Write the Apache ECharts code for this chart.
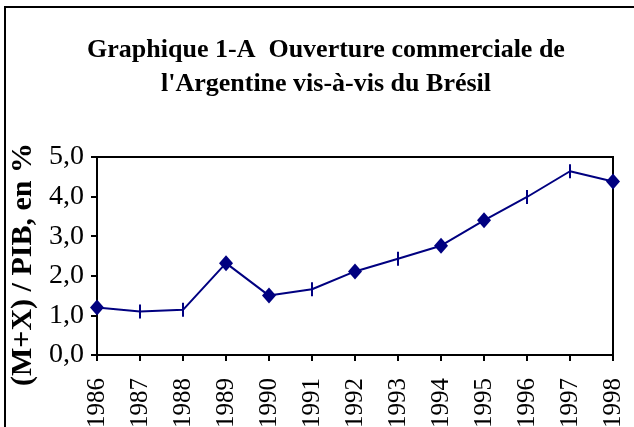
<!DOCTYPE html>
<html lang="fr">
<head>
    <meta charset="UTF-8">
    <title>Ouverture commerciale de l'Argentine vis-à-vis du Brésil</title>
    <script src="https://cdn.jsdelivr.net/npm/echarts@6/dist/echarts.min.js"></script>
    <style>
        html, body { margin: 0; padding: 0; background: #fff; }
        #chart { width: 634px; height: 427px; }
    </style>
</head>
<body>
    <div id="chart"></div>
    <script>
        // données
        var annees = ['1986', '1987', '1988', '1989', '1990', '1991', '1992',
                      '1993', '1994', '1995', '1996', '1997', '1998'];
        var ouverture = [1.20, 1.10, 1.14, 2.32, 1.50, 1.66, 2.11,
                         2.43, 2.76, 3.40, 3.99, 4.64, 4.38];
        // type de marqueur de chaque point (losange ou trait)
        var marqueurs = ['d', 't', 't', 'd', 'd', 't', 'd',
                         't', 'd', 'd', 't', 't', 'd'];

        var titre = "Graphique 1-A  Ouverture commerciale de\nl'Argentine vis-à-vis du Brésil";
        var nomAxeY = '(M+X) / PIB, en %';

        var serif = '"Liberation Serif", "DejaVu Serif", serif';
        var bleu = '#000080';

        var myChart = echarts.init(document.getElementById('chart'));

        var points = ouverture.map(function (v, i) {
            if (marqueurs[i] === 'd') {
                return { value: v, symbol: 'diamond', symbolSize: [14, 16] };
            }
            return { value: v, symbol: 'rect', symbolSize: [2, 14] };
        });

        myChart.setOption({
            backgroundColor: '#fff',
            animation: false,
            title: {
                text: titre,
                left: 321,
                textAlign: 'center',
                top: 28,
                textStyle: {
                    fontFamily: serif,
                    fontWeight: 'bold',
                    fontSize: 26,
                    lineHeight: 34,
                    color: '#000'
                }
            },
            grid: {
                left: 97,
                right: 21,
                top: 157,
                bottom: 72,
                containLabel: false,
                outerBoundsMode: 'none',
                show: true,
                borderColor: '#000',
                borderWidth: 2,
                backgroundColor: 'transparent'
            },
            xAxis: {
                type: 'category',
                data: annees,
                boundaryGap: false,
                axisLine: { lineStyle: { color: '#000', width: 2 } },
                axisTick: { show: true, length: 6, lineStyle: { color: '#000', width: 2 } },
                axisLabel: {
                    rotate: 90,
                    margin: 23,
                    interval: 0,
                    fontFamily: serif,
                    fontSize: 25,
                    color: '#000'
                },
                splitLine: { show: false }
            },
            yAxis: {
                type: 'value',
                min: 0,
                max: 5,
                interval: 1,
                axisLine: { show: true, lineStyle: { color: '#000', width: 2 } },
                axisTick: { show: true, length: 6, lineStyle: { color: '#000', width: 2 } },
                axisLabel: {
                    margin: 13,
                    fontFamily: serif,
                    fontSize: 28,
                    color: '#000',
                    formatter: function (v) { return v.toFixed(1).replace('.', ','); }
                },
                splitLine: { show: false }
            },
            graphic: [
                {
                    type: 'rect',
                    shape: { x: 5, y: 7, width: 700, height: 500 },
                    style: { fill: 'none', stroke: '#000', lineWidth: 2 },
                    silent: true
                },
                {
                    // titre de l'axe vertical, lu de bas en haut
                    type: 'text',
                    x: 38,
                    y: 386,
                    rotation: Math.PI / 2,
                    style: {
                        text: nomAxeY,
                        fontFamily: serif,
                        fontWeight: 'bold',
                        fontSize: 30,
                        fill: '#000',
                        textAlign: 'left',
                        textVerticalAlign: 'bottom'
                    },
                    silent: true
                }
            ],
            series: [
                {
                    type: 'line',
                    data: points,
                    lineStyle: { color: bleu, width: 2 },
                    itemStyle: { color: bleu, borderWidth: 0 },
                    emphasis: { disabled: true }
                }
            ]
        });
    </script>
</body>
</html>
